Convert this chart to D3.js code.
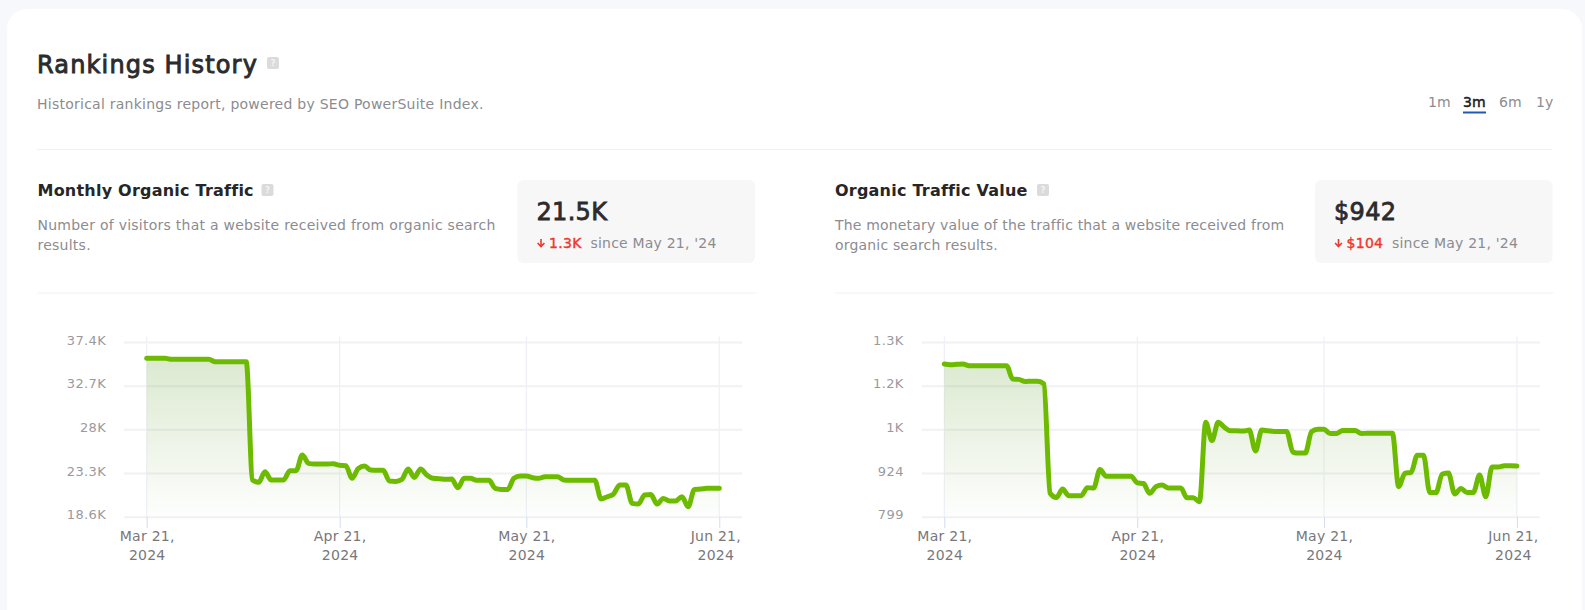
<!DOCTYPE html>
<html>
<head>
<meta charset="utf-8">
<script src="https://cdn.jsdelivr.net/npm/d3@7"></script>
<style>
  html, body { margin: 0; padding: 0; background: #f6f8fc; overflow: hidden; }
  svg { display: block; }
  text { font-family: "DejaVu Sans", sans-serif; }
</style>
</head>
<body>
<div id="report"></div>
<script>
// Tick labels and dates
const startDate = new Date(Date.UTC(2024, 2, 21));
const dateTicks = [new Date(Date.UTC(2024, 2, 21)), new Date(Date.UTC(2024, 3, 21)), new Date(Date.UTC(2024, 4, 21)), new Date(Date.UTC(2024, 5, 21))];
const dateLabels = [["Mar 21,", "2024"], ["Apr 21,", "2024"], ["May 21,", "2024"], ["Jun 21,", "2024"]];
const rangeLabels = ["1m", "3m", "6m", "1y"];

const trafficTicks = [18.6, 23.3, 28, 32.7, 37.4];
const trafficTickLabels = ["18.6K", "23.3K", "28K", "32.7K", "37.4K"];
const valueTicks = [799, 924, 1049, 1174, 1299];
const valueTickLabels = ["799", "924", "1K", "1.2K", "1.3K"];

// Daily values from Mar 21 to Jun 21
const trafficValues = [
  35.64, 35.64, 35.64, 35.64, 35.54, 35.54, 35.54, 35.54, 35.54, 35.54, 35.54,
  35.28, 35.28, 35.28, 35.28, 35.28, 35.28, 22.55, 22.30, 23.44, 22.55, 22.55,
  22.55, 23.55, 23.55, 25.24, 24.34, 24.27, 24.27, 24.27, 24.30, 24.13, 24.09,
  22.73, 23.80, 24.05, 23.62, 23.59, 23.59, 22.44, 22.40, 22.62, 23.73, 22.83,
  23.73, 23.09, 22.73, 22.69, 22.62, 22.65, 21.72, 22.73, 22.73, 22.51, 22.51,
  22.51, 21.65, 21.54, 21.54, 22.73, 22.98, 22.98, 22.80, 22.73, 22.91, 22.91,
  22.91, 22.55, 22.51, 22.51, 22.51, 22.51, 22.51, 20.50, 20.75, 21.04, 22.01,
  22.01, 20.04, 19.96, 20.93, 21.00, 19.96, 20.57, 20.29, 20.29, 20.75, 19.68,
  21.54, 21.58, 21.65, 21.65, 21.65
];
const trafficCosts = [
  1236, 1234, 1235, 1236, 1231, 1231, 1231, 1231, 1231, 1231, 1231,
  1193, 1192, 1186, 1187, 1187, 1179, 866, 854, 878, 859, 859,
  859, 882, 881, 934, 915, 915, 915, 915, 915, 896, 894,
  866, 885, 890, 881, 881, 881, 853, 853, 842, 1069, 1017,
  1069, 1055, 1045, 1045, 1044, 1047, 987, 1047, 1045, 1043, 1043,
  1043, 984, 981, 981, 1042, 1049, 1049, 1037, 1037, 1046, 1046,
  1046, 1037, 1038, 1038, 1038, 1038, 1038, 885, 923, 926, 975,
  975, 868, 868, 921, 924, 864, 880, 868, 868, 918, 856,
  941, 941, 945, 945, 944
];

const svg = d3.select("#report").append("svg")
    .attr("width", 1585)
    .attr("height", 610);

// white card
svg.append("rect")
    .attr("x", 7).attr("y", 9)
    .attr("width", 1575).attr("height", 640)
    .attr("rx", 20)
    .attr("fill", "#fff");

// spacing widens the text, heavy thickens it a little (DejaVu has no medium weight)
function label(x, y, str, size, color, weight, spacing, heavy) {
    const t = svg.append("text")
        .attr("x", x).attr("y", y)
        .attr("font-size", size)
        .attr("font-weight", weight || 400)
        .attr("letter-spacing", spacing || 0)
        .attr("fill", color)
        .text(str);
    if (heavy) t.attr("stroke", color).attr("stroke-width", heavy);
    return t;
}

function divider(x1, x2, y) {
    svg.append("line")
        .attr("x1", x1).attr("x2", x2)
        .attr("y1", y).attr("y2", y)
        .attr("stroke", "#f1f1f3");
}

// small grey question mark box
function helpBadge(x, y) {
    svg.append("rect")
        .attr("x", x).attr("y", y)
        .attr("width", 12).attr("height", 12)
        .attr("rx", 2)
        .attr("fill", "#dbdbdb");
    svg.append("text")
        .attr("x", x + 6).attr("y", y + 9)
        .attr("text-anchor", "middle")
        .attr("font-size", 8)
        .attr("font-weight", 700)
        .attr("fill", "#f4f4f4")
        .text("?");
}

// Header
label(37, 73, "Rankings History", 24, "#2b2b2d", 400, 1.15, 0.9);
helpBadge(267, 57);
label(37, 109, "Historical rankings report, powered by SEO PowerSuite Index.", 14, "#8c8c90", 400, 0.25);
divider(37, 1552, 149.5);

const rangeX = [1428, 1463, 1499, 1536];
rangeLabels.forEach((d, i) => {
    if (i === 1) label(rangeX[i], 107, d, 14, "#222", 400, 0.2, 0.5);
    else label(rangeX[i], 107, d, 14, "#8c8c90", 400, 0.2);
});
svg.append("rect")
    .attr("x", 1463).attr("y", 111.5)
    .attr("width", 23).attr("height", 2)
    .attr("fill", "#1f5bb5");

// One metric block: heading, description, summary box, then the chart
function drawMetric(opt) {
    const left = opt.left;

    label(left, 196, opt.title, 16, "#262628", 700, 0.22);
    helpBadge(left + opt.titleWidth + 10, 184);
    opt.desc.forEach((line, i) => label(left, 230 + i * 20, line, 14, "#8c8c90", 400, opt.descSpacing));

    // summary box
    svg.append("rect")
        .attr("x", left + 480).attr("y", 180)
        .attr("width", 237.5).attr("height", 83)
        .attr("rx", 6)
        .attr("fill", "#f7f7f7");
    label(left + 499, 219.5, opt.total, 24, "#2b2b2d", 400, 0.3, 0.8);
    svg.append("path")
        .attr("d", "M0,0V7M-3.4,4L0,7.6L3.4,4")
        .attr("transform", `translate(${left + 503.5},239)`)
        .attr("fill", "none")
        .attr("stroke", "#f0372d")
        .attr("stroke-width", 1.6);
    label(left + 511.5, 248, opt.delta, 14, "#f0372d", 400, 0.3, 0.4);
    label(left + opt.sinceOffset, 248, "since May 21, '24", 14, "#8c8c90", 400, 0.2);
    divider(left, left + 718.5, 293);

    // chart
    const x = d3.scaleUtc()
        .domain([dateTicks[0], dateTicks[3]])
        .range([opt.x0, opt.x0 + 572.6]);
    const y = d3.scaleLinear()
        .domain(d3.extent(opt.ticks))
        .range([516.7, 342]);

    const data = opt.values.map((v, i) => ({date: d3.utcDay.offset(startDate, i), value: v}));

    const gradId = "fade" + Math.round(left);
    const grad = svg.append("defs").append("linearGradient")
        .attr("id", gradId)
        .attr("gradientUnits", "userSpaceOnUse")
        .attr("x1", 0).attr("x2", 0)
        .attr("y1", 345).attr("y2", 516.7);
    grad.append("stop").attr("offset", 0).attr("stop-color", "#5f9c2a").attr("stop-opacity", 0.24);
    grad.append("stop").attr("offset", 1).attr("stop-color", "#5f9c2a").attr("stop-opacity", 0.01);

    // horizontal grid + y labels
    const yAxis = svg.append("g")
        .attr("transform", `translate(${opt.x0 - 22.5},0)`)
        .call(d3.axisLeft(y)
            .tickValues(opt.ticks)
            .tickFormat((d, i) => opt.tickLabels[i])
            .tickSize(-618)
            .tickPadding(18));
    yAxis.select(".domain").remove();
    yAxis.selectAll("line").attr("stroke", "#f1f1f3").attr("stroke-width", 2);
    yAxis.selectAll("text")
        .attr("font-family", null)
        .attr("font-size", 13)
        .attr("letter-spacing", 0.4)
        .attr("fill", "#9a9a9e")
        .attr("dy", "0.16em");

    // vertical grid
    svg.append("g")
        .selectAll("line")
        .data(dateTicks)
        .join("line")
        .attr("x1", d => x(d)).attr("x2", d => x(d))
        .attr("y1", 336.5).attr("y2", 517)
        .attr("stroke", "#eef0f6")
        .attr("stroke-width", 1.2);

    // x axis with two line labels, the last one is pulled back inside the chart
    const xAxis = svg.append("g")
        .attr("transform", "translate(0,517)")
        .call(d3.axisBottom(x).tickValues(dateTicks).tickSize(11).tickFormat(""));
    xAxis.select(".domain").remove();
    xAxis.selectAll("line").attr("stroke", "#d3dcf0");
    xAxis.selectAll("text").remove();
    xAxis.selectAll(".tick").append("text")
        .attr("text-anchor", "middle")
        .attr("font-size", 14)
        .attr("letter-spacing", 0.25)
        .attr("fill", "#77777b")
        .selectAll("tspan")
        .data((d, i) => dateLabels[i].map(s => ({s: s, dx: i === 3 ? -4 : 0})))
        .join("tspan")
        .attr("x", d => d.dx)
        .attr("y", (d, i) => 24 + i * 18.5)
        .text(d => d.s);

    const area = d3.area()
        .x(d => x(d.date))
        .y0(516.7)
        .y1(d => y(d.value))
        .curve(d3.curveMonotoneX);
    const line = d3.line()
        .x(d => x(d.date))
        .y(d => y(d.value))
        .curve(d3.curveMonotoneX);

    svg.append("path")
        .datum(data)
        .attr("fill", `url(#${gradId})`)
        .attr("d", area);
    svg.append("path")
        .datum(data)
        .attr("fill", "none")
        .attr("stroke", "#6dbb00")
        .attr("stroke-width", 5)
        .attr("stroke-linecap", "round")
        .attr("stroke-linejoin", "round")
        .attr("d", line);
}

drawMetric({
    left: 37.5,
    x0: 146.7,
    title: "Monthly Organic Traffic",
    titleWidth: 214,
    desc: ["Number of visitors that a website received from organic search", "results."],
    descSpacing: 0.25,
    total: "21.5K",
    delta: "1.3K",
    sinceOffset: 553,
    values: trafficValues,
    ticks: trafficTicks,
    tickLabels: trafficTickLabels
});

drawMetric({
    left: 835,
    x0: 944.3,
    title: "Organic Traffic Value",
    titleWidth: 192,
    desc: ["The monetary value of the traffic that a website received from", "organic search results."],
    descSpacing: 0.18,
    total: "$942",
    delta: "$104",
    sinceOffset: 557,
    values: trafficCosts,
    ticks: valueTicks,
    tickLabels: valueTickLabels
});
</script>
</body>
</html>
